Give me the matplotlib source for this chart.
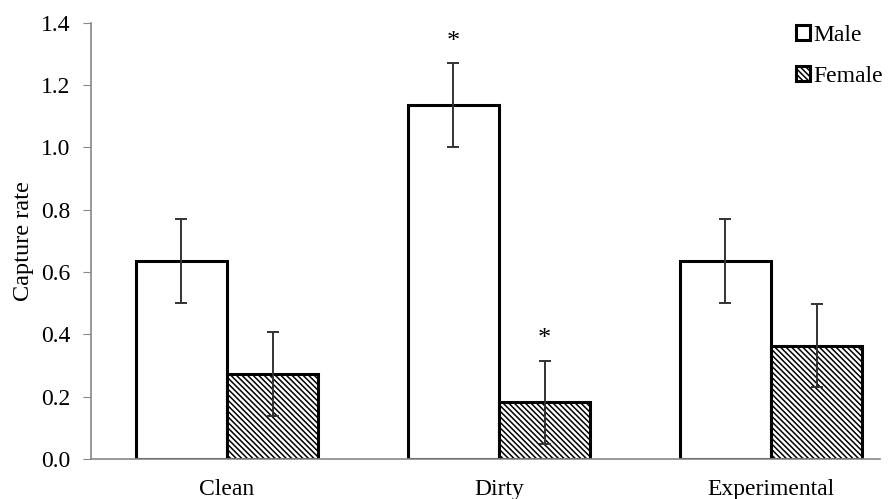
import matplotlib.pyplot as plt
import numpy as np

plt.rcParams['font.family'] = ['Liberation Serif', 'DejaVu Serif']
plt.rcParams['hatch.linewidth'] = 1.1

groups = ['Clean', 'Dirty', 'Experimental']
male = [0.636, 1.136, 0.636]
female = [0.273, 0.182, 0.364]
male_err = [0.134, 0.134, 0.134]
female_err = [0.134, 0.134, 0.134]
male_star = [False, True, False]
female_star = [False, True, False]

fig = plt.figure(figsize=(8.95, 4.99), dpi=100)
ax = fig.add_axes([0.1017, 0.080, 0.8813, 0.8745])

x = np.arange(len(groups))
w = 0.335
ekw = dict(ecolor='#333333', elinewidth=1.4, capsize=4.5, capthick=1.4, zorder=4)

ax.bar(x - w / 2, male, w, yerr=male_err, color='white', edgecolor='black',
       linewidth=2.2, error_kw=ekw, label='Male', zorder=2)
ax.bar(x + w / 2, female, w, yerr=female_err, color='white', edgecolor='black',
       linewidth=2.2, hatch='\\' * 6, error_kw=ekw, label='Female', zorder=2)

# significance stars
for i in range(len(groups)):
    if male_star[i]:
        ax.text(x[i] - w / 2, male[i] + male_err[i] + 0.068, '*', ha='center',
                va='center', fontsize=19)
    if female_star[i]:
        ax.text(x[i] + w / 2, female[i] + female_err[i] + 0.068, '*', ha='center',
                va='center', fontsize=19)

ax.set_xlim(-0.5, 2.4)
ax.set_ylim(0, 1.4)
ax.set_yticks(np.arange(0, 1.41, 0.2))
ax.set_yticklabels([f'{v:.1f}' for v in np.arange(0, 1.41, 0.2)])
ax.set_xticks(x)
ax.set_xticklabels(groups)
ax.tick_params(axis='y', length=6, color='#888888', labelsize=17, pad=9)
ax.tick_params(axis='x', length=0, labelsize=17, pad=14)
ax.set_ylabel('Capture rate', fontsize=17.5, labelpad=5)

for s in ['top', 'right']:
    ax.spines[s].set_visible(False)
for s in ['left', 'bottom']:
    ax.spines[s].set_color('#888888')
    ax.spines[s].set_linewidth(1.2)

fig.legend(*ax.get_legend_handles_labels(), loc='upper left',
           bbox_to_anchor=(0.889, 0.950), frameon=False, borderpad=0,
           borderaxespad=0, fontsize=17, handlelength=0.6, handleheight=0.6,
           handletextpad=0.15, labelspacing=0.85)

fig.savefig('out.png', dpi=100)
